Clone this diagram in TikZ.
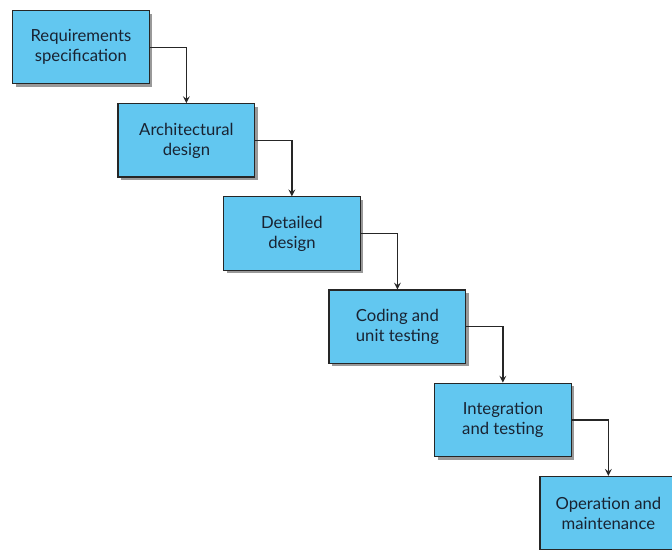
\documentclass[tikz,border=0pt]{standalone}
\usepackage{fontspec}
\setmainfont{Lato}
\usetikzlibrary{positioning,shadows,arrows}
\definecolor{stagefill}{RGB}{98,199,240}
\definecolor{stagetext}{RGB}{25,35,50}
\tikzset{
	stage/.style={draw=black!85, fill=stagefill, text=stagetext, line width=0.7pt,
		minimum width=82pt, minimum height=44pt, align=center,
		font=\fontsize{10}{12}\selectfont,
		drop shadow={shadow xshift=1.8pt, shadow yshift=-1.8pt, fill=black!40, opacity=1}},
	flow/.style={-stealth, line width=0.8pt, draw=black!85}
}
\begin{document}
\begin{tikzpicture}[x=0.6pt,y=-0.6pt, node distance=11.2pt and -19.4pt]
		\clip (0,0) rectangle (672,550);
		\node[stage, anchor=north west] (req) at (12,10) {Requirements\\specification};
		\node[stage, below right=of req]  (arch) {Architectural\\design};
		\node[stage, below right=of arch] (det)  {Detailed\\design};
		\node[stage, below right=of det]  (code) {Coding and\\unit testing};
		\node[stage, below right=of code] (integ) {Integration\\and testing};
		\node[stage, below right=of integ] (oper) {Operation and\\maintenance};
		\draw[flow] (req.east)   -| (arch.north);
		\draw[flow] (arch.east)  -| (det.north);
		\draw[flow] (det.east)   -| (code.north);
		\draw[flow] (code.east)  -| (integ.north);
		\draw[flow] (integ.east) -| (oper.north);
	\end{tikzpicture}
\end{document}
